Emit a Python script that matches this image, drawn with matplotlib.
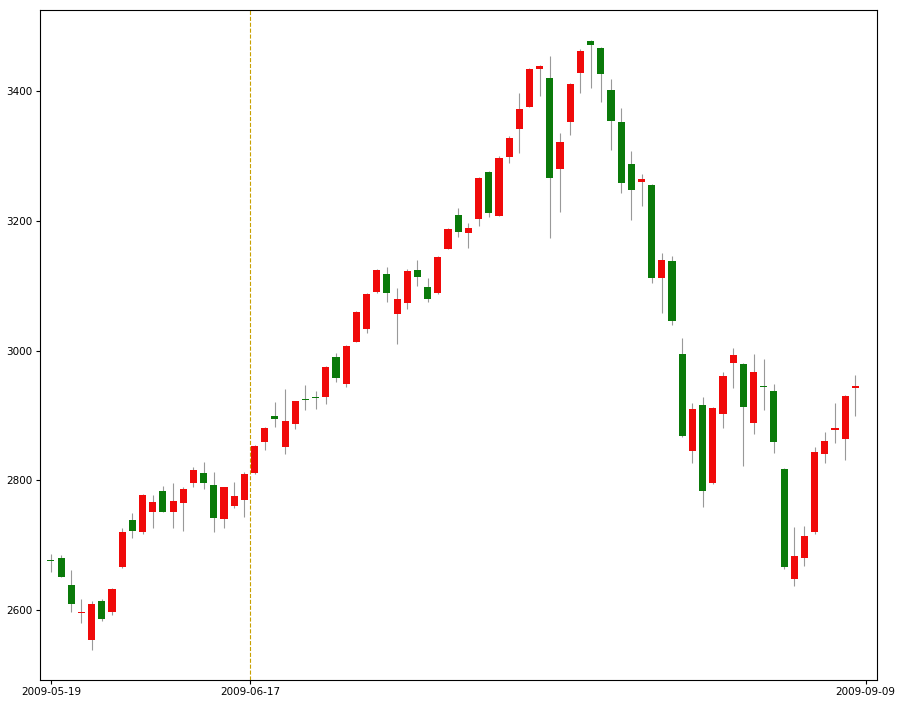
import matplotlib
matplotlib.use('Agg')
import matplotlib.pyplot as plt

# open, close, high, low
opens = [2678, 2680, 2639, 2595, 2554, 2614, 2598, 2666, 2739, 2720, 2751, 2783, 2751, 2765, 2796, 2811, 2793, 2740, 2760, 2770,
         2811, 2859, 2900, 2851, 2887, 2926, 2929, 2928, 2990, 2948, 3013, 3033, 3090, 3118, 3056, 3073, 3124, 3098, 3089, 3156,
         3209, 3181, 3203, 3275, 3207, 3298, 3341, 3375, 3434, 3420, 3280, 3352, 3428, 3477, 3466, 3401, 3352, 3288, 3260, 3255,
         3112, 3138, 2995, 2845, 2916, 2796, 2902, 2981, 2979, 2888, 2946, 2938, 2817, 2648, 2680, 2720, 2840, 2877, 2864, 2943]
closes = [2676, 2651, 2609, 2598, 2609, 2586, 2632, 2720, 2722, 2777, 2766, 2751, 2768, 2787, 2816, 2796, 2742, 2790, 2776, 2810,
          2853, 2880, 2894, 2891, 2922, 2924, 2927, 2975, 2958, 3007, 3059, 3087, 3124, 3089, 3079, 3123, 3113, 3079, 3144, 3187,
          3183, 3189, 3266, 3212, 3297, 3328, 3372, 3434, 3438, 3266, 3321, 3411, 3462, 3471, 3426, 3354, 3258, 3247, 3264, 3112,
          3140, 3045, 2868, 2910, 2783, 2911, 2961, 2993, 2913, 2967, 2944, 2859, 2666, 2683, 2714, 2844, 2861, 2881, 2930, 2946]
highs = [2686, 2685, 2662, 2617, 2614, 2618, 2634, 2726, 2750, 2779, 2777, 2791, 2796, 2790, 2820, 2828, 2813, 2790, 2797, 2813,
         2855, 2882, 2921, 2941, 2922, 2947, 2938, 2976, 2996, 3008, 3061, 3089, 3126, 3129, 3096, 3125, 3140, 3112, 3146, 3189,
         3220, 3197, 3268, 3277, 3300, 3330, 3397, 3436, 3440, 3454, 3335, 3413, 3464, 3479, 3468, 3418, 3374, 3308, 3272, 3257,
         3150, 3146, 3019, 2919, 2928, 2913, 2967, 3004, 2981, 2995, 2987, 2948, 2819, 2728, 2730, 2851, 2874, 2919, 2932, 2962]
lows = [2659, 2651, 2597, 2580, 2538, 2583, 2592, 2665, 2711, 2717, 2726, 2751, 2726, 2722, 2790, 2787, 2720, 2726, 2757, 2743,
        2810, 2847, 2882, 2840, 2879, 2908, 2910, 2918, 2951, 2944, 3013, 3027, 3089, 3075, 3010, 3064, 3100, 3075, 3087, 3156,
        3175, 3158, 3192, 3206, 3207, 3289, 3304, 3375, 3392, 3173, 3213, 3332, 3397, 3405, 3383, 3309, 3243, 3201, 3223, 3104,
        3058, 3039, 2867, 2827, 2759, 2794, 2880, 2942, 2822, 2871, 2908, 2842, 2664, 2637, 2668, 2718, 2827, 2857, 2831, 2899]
tick_pos = [0, 19.6, 80]
tick_labels = ['2009-05-19', '2009-06-17', '2009-09-09']

fig = plt.figure(figsize=(9.02, 7.05), dpi=100)
ax = fig.add_axes([0.044, 0.035, 0.928, 0.951])

for i, (o, c, h, l) in enumerate(zip(opens, closes, highs, lows)):
    col = '#f00a0a' if c >= o else '#0a7a0a'
    ax.vlines(i, l, h, color='#999999', linewidth=0.8, zorder=1)
    ax.bar(i, max(abs(c - o), 2), bottom=min(o, c), width=0.7, color=col, zorder=2)

ax.axvline(19.6, color='#c8a000', linestyle='--', linewidth=0.8)
ax.set_xticks(tick_pos)
ax.set_xticklabels(tick_labels)
ax.set_yticks([2600, 2800, 3000, 3200, 3400])
ax.tick_params(labelsize=7.5, length=3, pad=2)
ax.set_xlim(-1.1, 81.1)
ax.set_ylim(2492, 3525)
fig.savefig('out.png')
